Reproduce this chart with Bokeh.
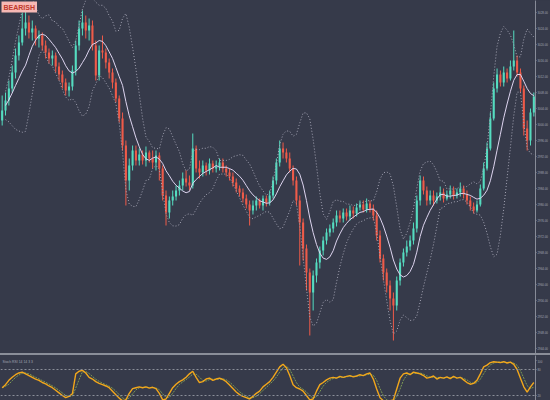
import pandas as pd
from bokeh.plotting import figure
from bokeh.models import (Range1d, FixedTicker, Label, Div, ColumnDataSource, Span,
                          GlobalInlineStyleSheet, PrintfTickFormatter)
from bokeh.layouts import column
from bokeh.embed import file_html
from bokeh.resources import INLINE

opens = [3001, 3003.5, 3006, 3009, 3013, 3017.25, 3020.5, 3024, 3025.5, 3023,
         3024, 3021.5, 3022.25, 3019.75, 3018, 3016.5, 3017.25, 3014.5, 3012.5, 3010.5,
         3008.5, 3009.5, 3013.5, 3019.75, 3024, 3025.5, 3023.5, 3024.75, 3019.75, 3012.25,
         3018.5, 3018, 3015.5, 3013, 3010.5, 3006.5, 3001.5, 2994.75, 2986, 2989.75,
         2993.5, 2991, 2992.5, 2991, 2993, 2991.5, 2990.5, 2992.25, 2989, 2982.25,
         2978, 2981, 2982, 2983.5, 2984.75, 2986.5, 2985.5, 2984.75, 2994, 2989,
         2988, 2989.75, 2988.5, 2990.25, 2989, 2989.5, 2990.5, 2989, 2988, 2987,
         2985.5, 2984, 2983, 2981.5, 2980, 2978.5, 2979.75, 2981, 2979.75, 2981.5,
         2980.5, 2982.25, 2986, 2990.5, 2994, 2993, 2991.5, 2989, 2986, 2981,
         2975.5, 2969, 2963, 2958, 2962.25, 2965.5, 2968.5, 2971, 2973, 2974,
         2975.5, 2977.25, 2976.5, 2978, 2977, 2978.5, 2977.75, 2979.25, 2980, 2978.75,
         2980.25, 2979, 2977.25, 2972.25, 2966.5, 2963, 2959.75, 2956.5, 2954.75, 2961,
         2965.5, 2968, 2969.5, 2971, 2974, 2981, 2986, 2983.5, 2981, 2982.25,
         2981, 2982, 2983, 2981.5, 2982.5, 2983.5, 2982.25, 2983, 2984, 2982.5,
         2981, 2979.5, 2978.5, 2980, 2984, 2989, 2994, 3001.5, 3009, 3012.5,
         3010.5, 3013, 3011.5, 3014.5, 3016, 3013, 3009, 2999, 2996, 3003]
closes = [3003.5, 3006, 3009, 3013, 3017.25, 3020.5, 3024, 3025.5, 3023, 3024,
          3021.5, 3022.25, 3019.75, 3018, 3016.5, 3017.25, 3014.5, 3012.5, 3010.5, 3008.5,
          3009.5, 3013.5, 3019.75, 3024, 3025.5, 3023.5, 3024.75, 3019.75, 3012.25, 3018.5,
          3018, 3015.5, 3013, 3010.5, 3006.5, 3001.5, 2994.75, 2986, 2989.75, 2993.5,
          2991, 2992.5, 2991, 2993, 2991.5, 2990.5, 2992.25, 2989, 2982.25, 2978,
          2981, 2982, 2983.5, 2984.75, 2986.5, 2985.5, 2984.75, 2994, 2989, 2988,
          2989.75, 2988.5, 2990.25, 2989, 2989.5, 2990.5, 2989, 2988, 2987, 2985.5,
          2984, 2983, 2981.5, 2980, 2978.5, 2979.75, 2981, 2979.75, 2981.5, 2980.5,
          2982.25, 2986, 2990.5, 2994, 2993, 2991.5, 2989, 2986, 2981, 2975.5,
          2969, 2963, 2958, 2962.25, 2965.5, 2968.5, 2971, 2973, 2974, 2975.5,
          2977.25, 2976.5, 2978, 2977, 2978.5, 2977.75, 2979.25, 2980, 2978.75, 2980.25,
          2979, 2977.25, 2972.25, 2966.5, 2963, 2959.75, 2956.5, 2954.75, 2961, 2965.5,
          2968, 2969.5, 2971, 2974, 2981, 2986, 2983.5, 2981, 2982.25, 2981,
          2982, 2983, 2981.5, 2982.5, 2983.5, 2982.25, 2983, 2984, 2982.5, 2981,
          2979.5, 2978.5, 2980, 2984, 2989, 2994, 3001.5, 3009, 3012.5, 3010.5,
          3013, 3011.5, 3014.5, 3016, 3013, 3009, 2999, 2996, 3003, 3007]
highs = [3007.25, 3008, 3011, 3014.75, 3019, 3022.25, 3028, 3028.5, 3027.25, 3026,
         3024.75, 3023.5, 3023, 3021, 3019, 3018.5, 3018, 3015.5, 3013.5, 3011.5,
         3010.5, 3014.75, 3021, 3026, 3028.5, 3027.25, 3026.5, 3026, 3021, 3019.75,
         3022.25, 3019, 3016.5, 3014, 3011.5, 3007.25, 3003, 2996, 2991.5, 2994.75,
         2994.75, 2994, 2993.5, 2994.5, 2993.5, 2993.5, 2993.5, 2993, 2989.75, 2983.5,
         2982, 2983.5, 2984.75, 2986, 2988, 2988.5, 2987.25, 2997.75, 2994.75, 2991,
         2991, 2990.5, 2991.5, 2991, 2991, 2991.5, 2991.5, 2989.75, 2989, 2988,
         2986.5, 2984.75, 2984, 2982.5, 2981, 2981, 2982, 2981.5, 2982.25, 2982.25,
         2983.5, 2987, 2991.5, 2996, 2995.5, 2994, 2993, 2989.75, 2987, 2982.25,
         2976.5, 2970, 2964, 2963.5, 2966.5, 2969.5, 2972, 2974, 2975, 2976.5,
         2978.5, 2978.5, 2979, 2979, 2979.75, 2979.5, 2980.25, 2981, 2981, 2981.5,
         2981, 2980, 2978.5, 2973.5, 2967.5, 2964, 2961, 2958, 2962, 2966.5,
         2969, 2971, 2972.25, 2975.5, 2982.25, 2987.25, 2987, 2984.5, 2983.5, 2983.5,
         2983, 2984.5, 2984, 2983.5, 2984.75, 2984.5, 2984, 2985.5, 2984.75, 2983.5,
         2982, 2980.5, 2981, 2985, 2990.5, 2995.5, 3003, 3010.5, 3014, 3013.5,
         3014.5, 3014, 3016, 3023.5, 3017.25, 3014, 3009.75, 3001, 3004, 3008]
lows = [2999.75, 3002.25, 3004.75, 3008, 3011.5, 3016, 3019.75, 3022.25, 3021.5, 3021,
        3019.75, 3019.25, 3018.5, 3016.5, 3015.25, 3014.75, 3013, 3011, 3009, 3007.25,
        3007, 3008.5, 3012.25, 3018.5, 3022.25, 3021.5, 3021, 3018.5, 3011, 3011,
        3016.5, 3014, 3011.5, 3009, 3005.5, 3000.5, 2993.5, 2979.75, 2983.5, 2988.5,
        2989.75, 2989.75, 2990, 2989.5, 2990.5, 2989, 2988.5, 2986, 2981, 2974.75,
        2976.5, 2979.75, 2981, 2982.25, 2983.5, 2984.5, 2983.5, 2984, 2988, 2986.5,
        2987, 2987.25, 2987.5, 2988, 2988, 2988.5, 2988, 2987, 2986, 2984.5,
        2983, 2982, 2980.5, 2979, 2974.75, 2977.5, 2978.5, 2979, 2978.5, 2979.5,
        2979.75, 2981.5, 2985, 2989.5, 2991.5, 2990.5, 2988, 2984.75, 2979.75, 2964.75,
        2966, 2958.5, 2947.25, 2953.5, 2960.5, 2964, 2967.25, 2970, 2972, 2973,
        2974.5, 2975.5, 2975.5, 2976, 2976, 2976.5, 2977, 2978.5, 2978, 2978,
        2978, 2976, 2971, 2965.5, 2961, 2958, 2953.5, 2946, 2953.5, 2959.75,
        2964.5, 2967, 2968.5, 2970, 2973, 2979.75, 2982.5, 2979.75, 2980, 2979.75,
        2980.25, 2981, 2980.5, 2981, 2981.5, 2981.25, 2981.5, 2982, 2981.5, 2980,
        2978.5, 2977.75, 2978, 2979.5, 2983.5, 2988.5, 2993.5, 3001, 3008, 3009.5,
        3009.5, 3010.5, 3011, 3013.5, 3012, 3008, 2997.25, 2993.5, 2994.75, 3002]
stoch_k = [38, 45, 55, 62, 68, 72, 74, 70, 66, 62,
           58, 55, 50, 47, 42, 38, 32, 26, 20, 15,
           18, 24, 70, 76, 78, 72, 62, 58, 52, 48,
           45, 42, 38, 30, 22, 14, 8, 10, 25, 36,
           38, 40, 38, 40, 37, 39, 36, 25, 10, 12,
           25, 38, 46, 52, 56, 62, 70, 76, 62, 50,
           52, 58, 60, 55, 58, 60, 57, 52, 44, 36,
           28, 22, 18, 15, 12, 18, 25, 30, 40, 46,
           52, 62, 74, 86, 92, 84, 66, 45, 38, 35,
           30, 20, 10, 12, 30, 45, 50, 56, 60, 62,
           60, 64, 62, 64, 66, 63, 65, 68, 66, 70,
           72, 58, 35, 15, 8, 7, 8, 10, 35, 60,
           70, 72, 68, 74, 72, 70, 66, 60, 62, 65,
           58, 62, 60, 63, 59, 64, 60, 62, 56, 50,
           46, 48, 55, 70, 86, 90, 96, 98, 97, 96,
           98, 95, 97, 92, 80, 60, 40, 28, 40, 50]
price_ticks = [3028, 3024, 3020, 3016, 3012, 3008, 3004, 3000, 2996, 2992, 2988,
               2984, 2980, 2976, 2972, 2968, 2964, 2960, 2956, 2952, 2948, 2944]
stoch_ticks = [20, 80, 100]
stoch_levels = [80, 20]
last_marker = 2978.5
signal_text = "BEARISH"
stoch_title = "Stoch RSI 14 14 3 3"

BG = "#363a4a"
GREEN = "#55dcc0"
RED = "#ef5b49"
AXIS = "#878b98"
LABEL = "#a2a6b2"

idx = list(range(len(closes)))
colors = [GREEN if c >= o else RED for o, c in zip(opens, closes)]
src = ColumnDataSource(dict(
    x=idx, h=highs, l=lows,
    top=[max(o, c) for o, c in zip(opens, closes)],
    bot=[min(o, c) for o, c in zip(opens, closes)],
    color=colors))

cs = pd.Series(closes, dtype=float)
mid = cs.rolling(8, min_periods=2).mean()
sd = cs.rolling(8, min_periods=2).std()
upper = mid + 2 * sd
lower = mid - 2 * sd

ks = pd.Series(stoch_k, dtype=float)
ds = ks.rolling(3, min_periods=1).mean()

xr = Range1d(-0.5, len(closes) - 0.5)

def style_axis(ax, ticks, fmt):
    ax.ticker = FixedTicker(ticks=ticks)
    ax.formatter = PrintfTickFormatter(format=fmt)
    ax.axis_line_color = AXIS
    ax.major_tick_line_color = AXIS
    ax.major_tick_out = 1
    ax.major_tick_in = 0
    ax.minor_tick_line_color = None
    ax.major_label_text_color = LABEL
    ax.major_label_text_font = "Liberation Sans"
    ax.major_label_text_font_size = "2.9px"
    ax.major_label_standoff = 1

p = figure(width=550, height=353, x_range=xr, y_range=Range1d(2942.75, 3031),
           x_axis_location=None, y_axis_location="right",
           output_backend="svg", toolbar_location=None,
           min_border_left=0, min_border_top=0, min_border_bottom=0, min_border_right=14,
           background_fill_color=BG, border_fill_color=BG, outline_line_color=None)
p.xgrid.visible = False
p.ygrid.visible = False
style_axis(p.yaxis[0], price_ticks, "%.2f")

p.segment(x0="x", y0="h", x1="x", y1="l", color="color", line_width=1, source=src)
p.vbar(x="x", width=0.62, top="top", bottom="bot", fill_color="color",
       line_color=None, source=src)

p.line(idx, upper, color="#a4a4b4", line_width=1, line_dash="1 2")
p.line(idx, lower, color="#a4a4b4", line_width=1, line_dash="1 2")
p.line(idx, mid, color="#ddd4ef", line_width=1)

p.add_layout(Label(x=1, y=341, x_units="screen", y_units="screen", text=signal_text,
                   text_font="Liberation Sans", text_font_style="bold",
                   text_font_size="7px", text_color="#c0392b",
                   background_fill_color="#f6b8b4", border_line_color=None,
                   padding=2, text_baseline="bottom"))
p.add_layout(Label(x=537, y=last_marker, x_units="screen", text="%.2f" % last_marker,
                   text_font="Liberation Sans", text_font_size="2.9px",
                   text_color=BG, background_fill_color="#d6d8de",
                   text_baseline="middle", padding=1))

sep = Div(text="", width=550, height=2, margin=0,
          styles={"background-color": "#8a8e99"})

q = figure(width=550, height=45, x_range=xr, y_range=Range1d(8.5, 112.3),
           x_axis_location=None, y_axis_location="right",
           output_backend="svg", toolbar_location=None,
           min_border_left=0, min_border_top=0, min_border_bottom=0, min_border_right=14,
           background_fill_color=BG, border_fill_color=BG, outline_line_color=None)
q.xgrid.visible = False
q.ygrid.visible = False
style_axis(q.yaxis[0], stoch_ticks, "%d")
for lv in stoch_levels:
    q.add_layout(Span(location=lv, dimension="width", line_color="#8a8e99",
                      line_width=1, line_dash="2 2"))
q.line(idx, ds, color="#7d9a55", line_width=1, line_dash="2 1")
q.line(idx, ks, color="#f2a71b", line_width=1.4)
q.add_layout(Label(x=2, y=37, x_units="screen", y_units="screen", text=stoch_title,
                   text_font="Liberation Sans", text_font_size="3.4px",
                   text_color=LABEL))

layout = column(p, sep, q, spacing=0)
layout.stylesheets = [GlobalInlineStyleSheet(
    css="html,body{margin:0;padding:0;background:#363a4a;overflow:hidden;}")]

open("out.html", "w").write(file_html(layout, INLINE))
